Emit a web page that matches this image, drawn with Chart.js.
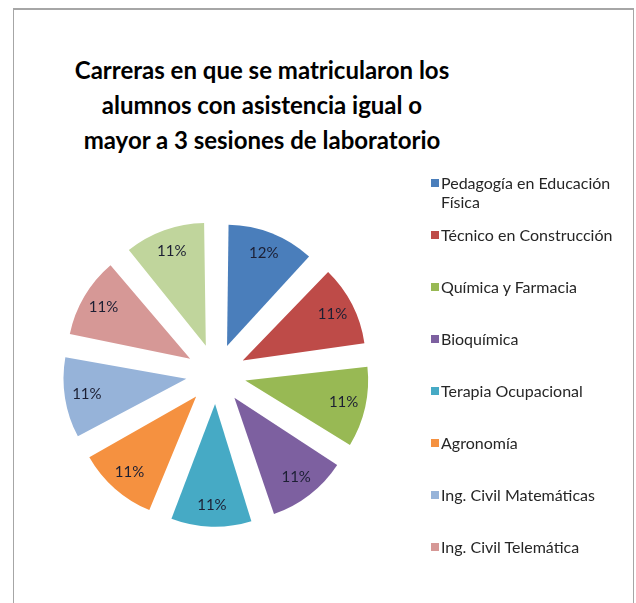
<!DOCTYPE html>
<html>
<head>
<meta charset="utf-8">
<script src="https://cdn.jsdelivr.net/npm/chart.js@4.4.0/dist/chart.umd.min.js"></script>
<style>
  html, body { margin: 0; padding: 0; background: #ffffff; }
  body { width: 636px; height: 603px; position: relative; overflow: hidden; font-family: Lato, "Open Sans", sans-serif; }
  #frame { position: absolute; left: 13px; top: 8px; width: 621px; height: 640px; border: 1px solid #a6a6a6; border-top: 2px solid #a6a6a6; box-sizing: border-box; }
  #title { position: absolute; left: 62px; width: 400px; top: 52px; text-align: center; font-weight: bold; font-size: 24px; line-height: 35px; color: #000; }
  #chart { position: absolute; left: 0; top: 0; }
  #legend { position: absolute; left: 431px; top: 173px; width: 200px; }
  .item { position: relative; height: 52px; font-size: 16px; line-height: 19px; color: #262626; }
  .item .sw { position: absolute; left: 0; top: 6px; width: 8px; height: 8px; }
  .item .tx { position: absolute; left: 10px; top: 0; width: 192px; }
</style>
</head>
<body>
<div id="frame"></div>
<div id="title"></div>
<canvas id="chart" width="636" height="603"></canvas>
<div id="legend"></div>
<script>
// ---- data ----
const titleLines = [
  "Carreras en que se matricularon los",
  "alumnos con asistencia igual o",
  "mayor a 3 sesiones de laboratorio"
];
// The ninth legend entry is cut off at the bottom of the reference picture.
const categories = [
  "Pedagogía en Educación Física",
  "Técnico en Construcción",
  "Química y Farmacia",
  "Bioquímica",
  "Terapia Ocupacional",
  "Agronomía",
  "Ing. Civil Matemáticas",
  "Ing. Civil Telemática",
  ""
];
const values = [12, 11, 11, 11, 11, 11, 11, 11, 11];
const colors = ["#4a7ebb", "#be4b48", "#98b954", "#7d60a0", "#46aac5", "#f59140", "#96b3d9", "#d69896", "#c0d59c"];

// ---- title ----
document.getElementById('title').innerHTML = titleLines.map(t => '<div>' + t + '</div>').join('');

// ---- legend ----
const legend = document.getElementById('legend');
categories.forEach((c, i) => {
  if (!c) return;
  const d = document.createElement('div');
  d.className = 'item';
  d.innerHTML = '<span class="sw" style="background:' + colors[i] + '"></span><span class="tx">' + c + '</span>';
  legend.appendChild(d);
});

// ---- percent labels plugin ----
const pctLabels = {
  id: 'pctLabels',
  afterDatasetsDraw(chart) {
    const ctx = chart.ctx;
    const meta = chart.getDatasetMeta(0);
    const ds = chart.data.datasets[0];
    const total = ds.data.reduce((a, b) => a + b, 0);
    ctx.save();
    ctx.font = '15px Lato, "Open Sans", sans-serif';
    ctx.fillStyle = '#1c1f33';
    ctx.textAlign = 'center';
    ctx.textBaseline = 'middle';
    meta.data.forEach((arc, i) => {
      const p = arc.getProps(['x', 'y', 'startAngle', 'endAngle', 'outerRadius', 'circumference'], true);
      const mid = (p.startAngle + p.endAngle) / 2;
      // Chart.js translates an arc by offset/4 and grows its radius by (offset/4)*(1-sin(circ))
      const shift = ds.offset / 4;
      const rEff = p.outerRadius + shift * (1 - Math.sin(Math.min(Math.PI, p.circumference)));
      const dist = shift + rEff * 0.82;
      const x = p.x + Math.cos(mid) * dist;
      const y = p.y + Math.sin(mid) * dist;
      ctx.fillText(Math.round(ds.data[i] / total * 100) + '%', x, y);
    });
    ctx.restore();
  }
};

new Chart(document.getElementById('chart'), {
  type: 'pie',
  data: {
    labels: categories,
    datasets: [{
      data: values,
      backgroundColor: colors,
      borderWidth: 0,
      offset: 120,
      radius: 112,
      clip: false
    }]
  },
  options: {
    responsive: false,
    animation: false,
    layout: { padding: { left: 40, right: 244, top: 190, bottom: 45 } },
    plugins: {
      legend: { display: false },
      title: { display: false },
      tooltip: { enabled: false }
    }
  },
  plugins: [pctLabels]
});
</script>
</body>
</html>
